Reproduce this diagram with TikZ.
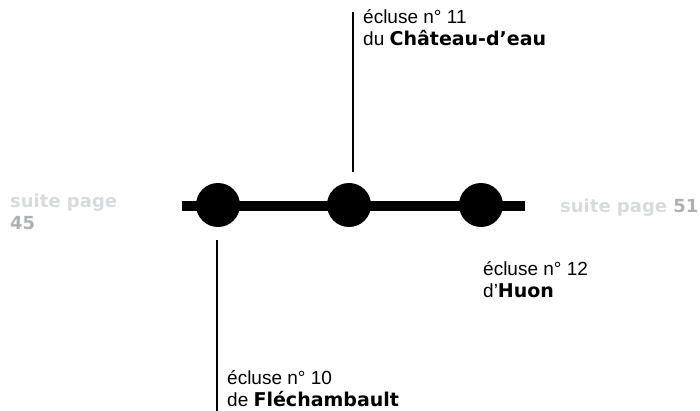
\documentclass[tikz,border=0pt]{standalone}
\usepackage{fontspec}
\setmainfont{Liberation Sans}
\newfontfamily\heavy{DejaVu Sans}
\definecolor{lightgr}{HTML}{D8DADB}
\definecolor{darkgr}{HTML}{AEB0B2}
\begin{document}
\begin{tikzpicture}[x=1pt,y=-1pt,
  lock/.style={circle,fill=black,minimum size=44pt,inner sep=0pt},
  label/.style={anchor=base west,inner sep=0pt,font=\fontsize{19}{22}\selectfont},
  suite/.style={anchor=base west,inner sep=0pt,font=\heavy\bfseries\fontsize{18}{22}\selectfont},
  stem/.style={line width=2pt}]
\useasboundingbox (0,0) rectangle (700,411);
\draw[line width=10pt] (182,206) -- (525,206);
\node[lock] (c10) at (218,205) {};
\node[lock] (c11) at (349,205) {};
\node[lock] (c12) at (481,205) {};
% stems
\coordinate (s11a) at (353,12);
\coordinate (s11b) at (353,172);
\coordinate (s10a) at (217,240);
\coordinate (s10b) at (217,411);
\draw[stem] (s11a) -- (s11b);
\draw[stem] (s10a) -- (s10b);
% labels
\node[label] (l11a) at (363,24) {écluse n° 11};
\node[label] (l11b) at (363,46) {du {\heavy\bfseries Château-d’eau}};
\node[label] (l12a) at (483,275) {écluse n° 12};
\node[label] (l12b) at (483,297) {d’{\heavy\bfseries Huon}};
\node[label] (l10a) at (227,384) {écluse n° 10};
\node[label] (l10b) at (227,406) {de {\heavy\bfseries Fléchambault}};
% suite page
\node[suite,text=lightgr] (sl) at (10,208) {suite page};
\node[suite,text=darkgr] (sl2) at (10,230) {45};
\node[suite,text=lightgr] (sr) at (560,213) {suite page \textcolor{darkgr}{51}};
\end{tikzpicture}
\end{document}
